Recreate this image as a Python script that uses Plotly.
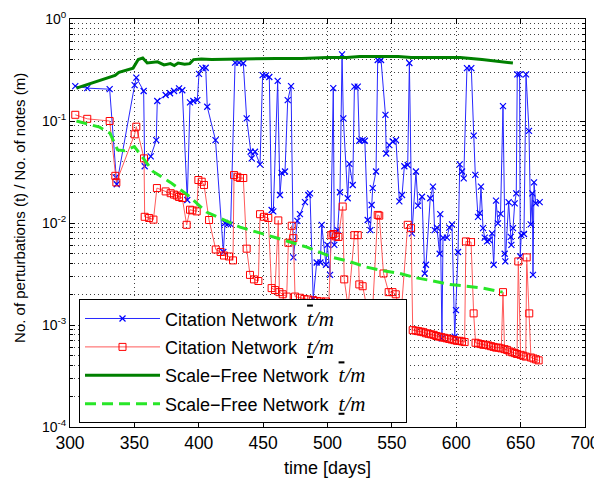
import plotly.graph_objects as go

# ---------------- data ----------------
cit_tbar_days = [304.1, 313.4, 330.8, 335.5, 336.3, 350.2, 351.5, 357.2, 358.0, 362.7,
                 367.0, 367.8, 374.3, 377.7, 380.8, 384.7, 387.2, 391.1, 393.2, 395.8,
                 398.9, 400.2, 402.8, 405.4, 406.6, 413.0, 419.1, 420.4, 422.7, 424.8,
                 428.2, 431.3, 434.6, 437.2, 440.3, 441.1, 443.7, 447.6, 449.6, 452.2,
                 454.8, 456.6, 457.9, 461.3, 463.1, 464.4, 467.0, 469.1, 471.7, 473.5,
                 476.6, 478.6, 482.5, 485.1, 486.4, 488.9, 491.6, 494.5, 495.5, 498.8,
                 499.9, 502.0, 504.5, 505.3, 507.9, 509.7, 511.3, 512.3, 515.7, 517.0,
                 519.6, 520.9, 523.5, 524.7, 527.3, 529.0, 531.2, 533.3, 534.3, 535.1,
                 537.7, 539.0, 541.6, 545.0, 545.6, 548.0, 550.6, 553.2, 555.8, 557.9,
                 559.7, 562.3, 563.6, 565.6, 568.7, 570.3, 573.4, 575.5, 576.5, 579.8,
                 581.9, 583.2, 585.0, 587.1, 587.6, 588.9, 589.7, 592.8, 594.6, 596.7,
                 598.8, 599.8, 601.4, 602.7, 604.5, 605.8, 608.3, 611.7, 613.6, 614.8,
                 616.9, 618.2, 619.2, 620.8, 622.1, 623.9, 625.7, 627.8, 629.1, 630.9,
                 632.4, 634.4, 636.3, 637.6, 638.1, 640.7, 642.3, 642.8, 644.1, 645.4,
                 646.6, 647.4, 649.2, 649.7, 650.5, 652.6, 654.2, 656.5, 657.8, 659.1,
                 659.6, 660.4, 661.7, 664.8]
cit_tbar_vals = [0.22, 0.21, 0.205, 0.028, 0.024, 0.225, 0.266, 0.197, 0.036, 0.045,
                 0.065, 0.157, 0.18, 0.187, 0.197, 0.209, 0.20, 0.0168, 0.152, 0.157,
                 0.16, 0.29, 0.33, 0.333, 0.138, 0.065, 0.0052, 0.0100, 0.0098, 0.0097,
                 0.373, 0.373, 0.368, 0.106, 0.05, 0.043, 0.05, 0.0376, 0.282, 0.28,
                 0.27, 0.0134, 0.013, 0.247, 0.0188, 0.031, 0.032, 0.16, 0.22, 0.0046,
                 0.0105, 0.0122, 0.016, 0.0188, 0.0195, 0.0018, 0.0041, 0.0041, 0.0096, 0.0039,
                 0.0061, 0.0031, 0.21, 0.0061, 0.0085, 0.020, 0.45, 0.106, 0.0175, 0.038,
                 0.0236, 0.217, 0.217, 0.064, 0.065, 0.064, 0.0107, 0.0085, 0.015, 0.022,
                 0.032, 0.396, 0.396, 0.115, 0.048, 0.058, 0.063, 0.065, 0.0163, 0.0188,
                 0.036, 0.037, 0.37, 0.0079, 0.032, 0.0148, 0.0181, 0.0032, 0.0039, 0.0175,
                 0.0227, 0.0085, 0.009, 0.005, 0.0122, 0.00074, 0.0072, 0.0072, 0.009, 0.0097,
                 0.00077, 0.0014, 0.0052, 0.0376, 0.032, 0.0274, 0.33, 0.33, 0.072, 0.0296,
                 0.0115, 0.0125, 0.0227, 0.0089, 0.0072, 0.0066, 0.0068, 0.0079, 0.0039, 0.0166,
                 0.0099, 0.0123, 0.14, 0.005, 0.0042, 0.016, 0.0073, 0.0061, 0.0089, 0.0156,
                 0.0195, 0.287, 0.287, 0.0047, 0.0076, 0.0078, 0.287, 0.08, 0.0097, 0.0195,
                 0.0031, 0.025, 0.0156, 0.016]

cit_tunder_days = [304.1, 313.4, 330.8, 335.2, 336.0, 350.2, 351.5, 357.5, 358.0, 361.4,
                   364.8, 367.5, 374.3, 378.2, 380.8, 382.9, 384.7, 387.2, 390.6, 393.2,
                   395.0, 398.4, 399.7, 402.3, 404.1, 408.0, 413.2, 417.0, 419.6, 423.5,
                   426.6, 427.4, 430.0, 432.0, 434.6, 437.2, 439.8, 442.9, 446.3, 447.6,
                   450.7, 454.0, 456.6, 459.2, 461.8, 462.6, 465.2, 468.3, 469.6, 472.2,
                   473.5, 474.8, 478.6, 482.0, 485.0, 488.9, 492.0, 495.0, 498.8, 501.0,
                   503.0, 504.5, 506.5, 508.5, 511.8, 513.0, 516.0, 520.9, 523.5, 524.7,
                   527.3, 531.0, 535.0, 539.0, 540.2, 543.5, 547.5, 550.5, 553.0, 557.0,
                   562.3, 564.9, 566.2, 568.5, 570.5, 572.5, 574.5, 576.5, 578.5, 580.5,
                   582.5, 584.5, 586.5, 588.5, 590.5, 592.5, 594.5, 596.5, 598.5, 600.5,
                   602.5, 604.5, 606.5, 607.5, 611.5, 613.5, 615.0, 617.0, 619.0, 621.0,
                   623.0, 625.0, 627.0, 629.0, 631.0, 633.0, 635.0, 636.3, 637.5, 639.5,
                   641.5, 643.5, 645.5, 647.2, 648.2, 650.0, 652.0, 654.0, 654.7, 656.7,
                   658.0, 660.0, 662.0, 664.0]
cit_tunder_vals = [0.115, 0.105, 0.10, 0.029, 0.025, 0.074, 0.088, 0.043, 0.0115, 0.0112,
                   0.0108, 0.022, 0.0204, 0.0196, 0.019, 0.0186, 0.018, 0.0176, 0.0096, 0.0135,
                   0.0133, 0.0130, 0.0264, 0.0254, 0.0236, 0.0107, 0.0055, 0.0052, 0.0048, 0.0047,
                   0.0043, 0.0295, 0.0284, 0.0276, 0.0276, 0.0056, 0.0031, 0.0028, 0.0027, 0.0122,
                   0.0115, 0.0112, 0.0023, 0.0022, 0.0106, 0.0021, 0.0020, 0.0019, 0.0064, 0.0094,
                   0.0071, 0.0019, 0.00185, 0.0018, 0.00178, 0.00175, 0.00172, 0.0017, 0.0017, 0.0016,
                   0.0076, 0.0078, 0.0074, 0.0073, 0.0145, 0.0028, 0.0015, 0.0076, 0.0076, 0.0025,
                   0.0024, 0.0014, 0.0014, 0.012, 0.0118, 0.0032, 0.0021, 0.0021, 0.0020, 0.0012,
                   0.0096, 0.0089, 0.00089, 0.00088, 0.00087, 0.00086, 0.00085, 0.00083, 0.00082, 0.00081,
                   0.00080, 0.00078, 0.00077, 0.00076, 0.00075, 0.00074, 0.00073, 0.00072, 0.00071, 0.00070,
                   0.00070, 0.00069, 0.00068, 0.0066, 0.0065, 0.0013, 0.00067, 0.00066, 0.00065, 0.00064,
                   0.00064, 0.00063, 0.00062, 0.00061, 0.00060, 0.00060, 0.00059, 0.0021, 0.00058, 0.00057,
                   0.00055, 0.00054, 0.00053, 0.00052, 0.0042, 0.00051, 0.00050, 0.00049, 0.0046, 0.0013,
                   0.00048, 0.00047, 0.00046, 0.00045]

sf_tbar_days = [305, 335, 338, 349, 353, 356.5, 360, 364, 368, 373, 378, 381, 384, 389, 393,
                396, 402, 410, 430, 460, 480, 500, 515, 525, 540, 555, 565, 590, 603, 620, 644]
sf_tbar_vals = [0.21, 0.28, 0.30, 0.33, 0.40, 0.415, 0.37, 0.375, 0.38, 0.355, 0.365, 0.35, 0.37,
                0.36, 0.365, 0.40, 0.405, 0.40, 0.405, 0.41, 0.41, 0.42, 0.42, 0.43, 0.43, 0.43,
                0.42, 0.42, 0.42, 0.40, 0.37]

sf_tunder_days = [305, 323, 331, 337, 342, 350, 357, 364.5, 378, 391, 406, 432, 458, 484, 504,
                  517, 530, 543, 556, 569, 582, 595, 608, 621, 636]
sf_tunder_vals = [0.10, 0.087, 0.076, 0.052, 0.051, 0.056, 0.043, 0.032, 0.025, 0.019, 0.0128,
                  0.0091, 0.0073, 0.0058, 0.0046, 0.0042, 0.0037, 0.0034, 0.0032, 0.0029, 0.0027,
                  0.0025, 0.0024, 0.0023, 0.0021]

x_ticks = [300, 350, 400, 450, 500, 550, 600, 650, 700]
y_ticks = [1e-4, 1e-3, 1e-2, 1e-1, 1e0]
y_tick_text = ["10<sup>-4</sup>", "10<sup>-3</sup>", "10<sup>-2</sup>", "10<sup>-1</sup>", "10<sup>0</sup>"]
y_minor = [k * 10.0 ** d for d in (-4, -3, -2, -1) for k in range(2, 10)]

FONT = "Liberation Sans, Arial, sans-serif"
MATH = "font-family:'Liberation Serif', serif;font-style:italic;font-size:21px"
tbar = "<span style=\"%s;text-decoration:overline\">t</span><span style=\"%s\">/m</span>" % (MATH, MATH)
tund = "<span style=\"%s;text-decoration:underline\">t</span><span style=\"%s\">/m</span>" % (MATH, MATH)
NB = "\u00a0\u00a0"
PAD = "\u00a0" * 7

fig = go.Figure()
fig.add_trace(go.Scatter(
    x=cit_tbar_days, y=cit_tbar_vals, mode="lines+markers",
    name="Citation Network" + NB + tbar + PAD, legendgroup="a",
    line=dict(color="rgb(40,40,255)", width=1),
    marker=dict(symbol="x-thin-open", size=6, line=dict(color="blue", width=1.2), color="blue")))
fig.add_trace(go.Scatter(
    x=cit_tunder_days, y=cit_tunder_vals, mode="lines+markers",
    name="Citation Network" + NB + tund + PAD, legendgroup="b",
    line=dict(color="rgb(255,90,90)", width=1),
    marker=dict(symbol="square-open", size=7, color="red", line=dict(color="red", width=1))))
fig.add_trace(go.Scatter(
    x=sf_tbar_days, y=sf_tbar_vals, mode="lines",
    name="Scale\u2212Free Network" + NB + tbar + PAD, legendgroup="c",
    line=dict(color="rgb(0,128,0)", width=3)))
fig.add_trace(go.Scatter(
    x=sf_tunder_days, y=sf_tunder_vals, mode="lines",
    name="Scale\u2212Free Network" + NB + tund + PAD, legendgroup="d",
    line=dict(color="rgb(40,230,40)", width=3, dash="11px,6px")))

# The page body has an 8px default margin, so the figure is 8px smaller
# and its plot area lands at x 70..585, y 19..427 of the window.
gridc = "rgba(0,0,0,0.75)"
gdash = "1px,3px"
fig.update_layout(
    width=594, height=471,
    margin=dict(l=62, r=17, t=11, b=52),
    paper_bgcolor="white", plot_bgcolor="white",
    font=dict(family=FONT, size=17, color="black"),
    showlegend=True,
    legend=dict(x=0.0175, y=0.313, xanchor="left", yanchor="top",
                bgcolor="white", bordercolor="black", borderwidth=1,
                font=dict(size=18), itemwidth=75, tracegroupgap=2),
    xaxis=dict(range=[300, 700], tickmode="array", tickvals=x_ticks,
               ticks="inside", ticklen=5, tickcolor="black",
               showline=True, linecolor="black", linewidth=1, mirror="ticks",
               showgrid=True, griddash=gdash, gridcolor=gridc, gridwidth=1,
               zeroline=False, tickfont=dict(size=17.5), automargin=False,
               title=dict(text="time [days]", font=dict(size=18), standoff=9)),
    yaxis=dict(type="log", range=[-4, 0], tickmode="array", tickvals=y_ticks, ticktext=y_tick_text,
               ticks="inside", ticklen=5, tickcolor="black",
               showline=True, linecolor="black", linewidth=1, mirror="ticks",
               showgrid=True, griddash=gdash, gridcolor=gridc, gridwidth=1,
               zeroline=False, tickfont=dict(size=14), automargin=False,
               minor=dict(tickmode="array", tickvals=y_minor, ticks="inside", ticklen=3,
                          tickcolor="black", showgrid=True, griddash=gdash, gridcolor=gridc, gridwidth=1)),
    annotations=[dict(text="No. of perturbations (t) / No. of notes (m)", textangle=-90,
                      xref="paper", yref="paper", x=-0.097, y=0.537,
                      xanchor="center", yanchor="middle", showarrow=False,
                      font=dict(size=15))],
)

fig.write_html("out.html")
